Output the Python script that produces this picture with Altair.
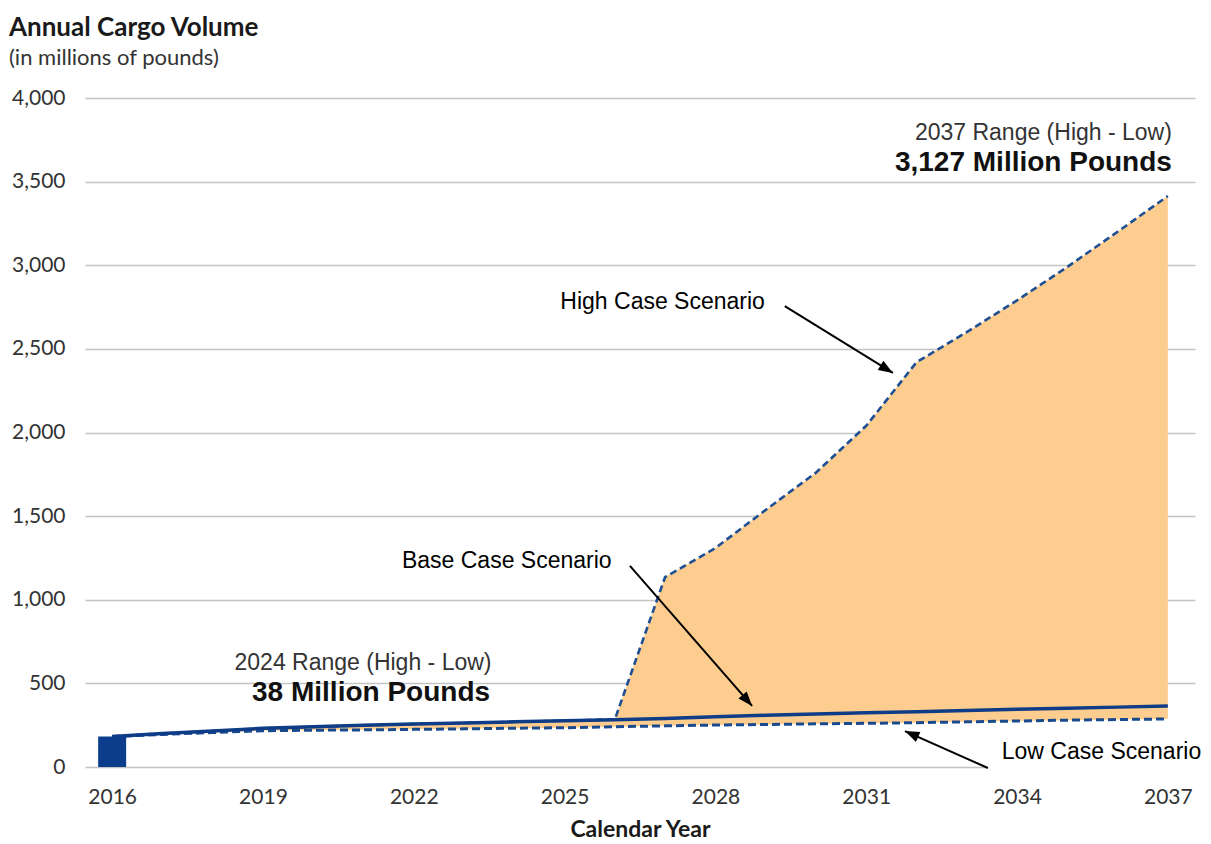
import altair as alt
import pandas as pd

# ---------------- data ----------------
years = list(range(2016, 2038))
base = [182, 200, 215, 231, 240, 249, 257, 263, 270, 277, 283, 290, 301, 309, 317, 325, 331, 338, 345, 352, 358, 365]
low = [182, 195, 206, 217, 220, 222, 225, 228, 232, 235, 241, 246, 251, 254, 258, 261, 265, 270, 275, 280, 284, 287]
high = [182, 200, 215, 231, 240, 249, 257, 263, 270, 277, 285, 1136, 1309, 1537, 1760, 2040, 2420, 2600, 2790, 2990, 3200, 3414]

bar_year = [2016]
bar_value = [182]

x_ticks = [2016, 2019, 2022, 2025, 2028, 2031, 2034, 2037]
y_ticks = [0, 500, 1000, 1500, 2000, 2500, 3000, 3500, 4000]

# scenario labels (text, year, value)
label_text = ["High Case Scenario", "Base Case Scenario", "Low Case Scenario"]
label_year = [2026.95, 2023.85, 2035.68]
label_value = [2780, 1232, 90]

# arrows: tail -> head (year, value), head angle (deg)
arrow_x = [2029.38, 2026.30, 2033.42]
arrow_y = [2756, 1202, -6]
arrow_x2 = [2031.53, 2028.73, 2031.77]
arrow_y2 = [2356, 365, 215]
arrow_angle = [121.8, 138.9, 294.0]

# range annotations
range_small_text = ["2024 Range (High - Low)", "2037 Range (High - Low)"]
range_small_year = [2020.99, 2037.08]
range_small_value = [622, 3791]
range_small_align = ["center", "right"]
range_big_text = ["38 Million Pounds", "3,127 Million Pounds"]
range_big_year = [2021.15, 2037.08]
range_big_value = [442, 3611]
range_big_align = ["center", "right"]

# white box behind "Low Case Scenario"
box_x = [2033.40]
box_x2 = [2037.70]
box_y = [-25]
box_y2 = [150]

# ---------------- chart ----------------
df = pd.DataFrame({"year": years, "base": base, "low": low, "high": high})

xscale = alt.Scale(domain=[2015.46, 2037.54], nice=False, zero=False, padding=0)
yscale = alt.Scale(domain=[0, 4000], nice=False, padding=0)

xaxis = alt.Axis(values=x_ticks, format="d", title="Calendar Year", grid=False, domain=False,
                 ticks=False, labelFont="Lato", labelFontSize=21, labelColor="#333333",
                 labelPadding=19, labelFontWeight="normal",
                 titleFont="Lato", titleFontSize=23, titleFontWeight="bold", titleColor="#1a1a1a",
                 titlePadding=11)
yaxis = alt.Axis(values=y_ticks, format=",.0f", title=None, grid=True, gridColor="#C4C4C4",
                 gridWidth=1.6, domain=False, ticks=False, labelFont="Lato", labelFontSize=21,
                 labelColor="#333333", labelPadding=20)


def X(field="year"):
    return alt.X(f"{field}:Q", scale=xscale, axis=xaxis)


def Y(field):
    return alt.Y(f"{field}:Q", scale=yscale, axis=yaxis)


area = alt.Chart(df).mark_area(color="#FDCC8F", opacity=1).encode(
    x=X(), y=Y("low"), y2="high:Q")

low_line = alt.Chart(df).mark_line(color="#1A4A8E", strokeWidth=3, strokeDash=[8, 4]).encode(
    x=X(), y=Y("low"))

high_line = alt.Chart(df).mark_line(color="#1F4F93", strokeWidth=2.6, strokeDash=[7, 4]).encode(
    x=X(), y=Y("high"))

base_line = alt.Chart(df).mark_line(color="#0E3C87", strokeWidth=3.5).encode(
    x=X(), y=Y("base"))

bar = alt.Chart(pd.DataFrame({"year": bar_year, "value": bar_value})).mark_bar(
    size=28, color="#0B3D8C").encode(x=X(), y=Y("value"))

box = alt.Chart(pd.DataFrame({"year": box_x, "year2": box_x2, "value": box_y, "value2": box_y2})).mark_rect(
    color="white").encode(x=X(), x2="year2:Q", y=Y("value"), y2="value2:Q")

arrows_df = pd.DataFrame({"year": arrow_x, "value": arrow_y, "year2": arrow_x2, "value2": arrow_y2,
                          "angle": arrow_angle})
arrow_lines = alt.Chart(arrows_df).mark_rule(color="black", strokeWidth=2).encode(
    x=X(), y=Y("value"), x2="year2:Q", y2="value2:Q")
arrow_heads = alt.Chart(arrows_df).mark_point(
    shape="M0,0L-0.75,2L0.75,2Z", filled=True, color="black", opacity=1, size=210).encode(
    x=alt.X("year2:Q", scale=xscale, axis=xaxis), y=alt.Y("value2:Q", scale=yscale, axis=yaxis),
    angle=alt.Angle("angle:Q", scale=None))

labels = alt.Chart(pd.DataFrame({"year": label_year, "value": label_value, "t": label_text})).mark_text(
    font="Liberation Sans", fontSize=23, color="black", baseline="middle", align="center").encode(
    x=X(), y=Y("value"), text="t:N")

small_layers = []
for t, xv, yv, al in zip(range_small_text, range_small_year, range_small_value, range_small_align):
    small_layers.append(alt.Chart(pd.DataFrame({"year": [xv], "value": [yv], "t": [t]})).mark_text(
        font="Liberation Sans", fontSize=23, color="#333333", baseline="middle", align=al).encode(
        x=X(), y=Y("value"), text="t:N"))
for t, xv, yv, al in zip(range_big_text, range_big_year, range_big_value, range_big_align):
    small_layers.append(alt.Chart(pd.DataFrame({"year": [xv], "value": [yv], "t": [t]})).mark_text(
        font="Liberation Sans", fontSize=28, fontWeight="bold", color="#111111", baseline="middle",
        align=al).encode(x=X(), y=Y("value"), text="t:N"))

chart = alt.layer(
    area, low_line, high_line, base_line, bar, box, arrow_lines, arrow_heads, labels, *small_layers
).properties(
    width=1110, height=669,
    autosize=alt.AutoSizeParams(type="none"),
    padding={"left": 77, "top": 90, "right": 8, "bottom": 76},
    title=alt.TitleParams(
        text="Annual Cargo Volume", subtitle="(in millions of pounds)", anchor="start",
        frame="group", dx=-76, offset=18, font="Lato", fontSize=26, fontWeight="bold",
        color="#1a1a1a", subtitleFont="Lato", subtitleFontSize=22, subtitleColor="#333333",
        subtitlePadding=7),
).configure(background="white").configure_view(stroke=None)

chart.save("out.html", embed_options={"renderer": "svg", "actions": False})
